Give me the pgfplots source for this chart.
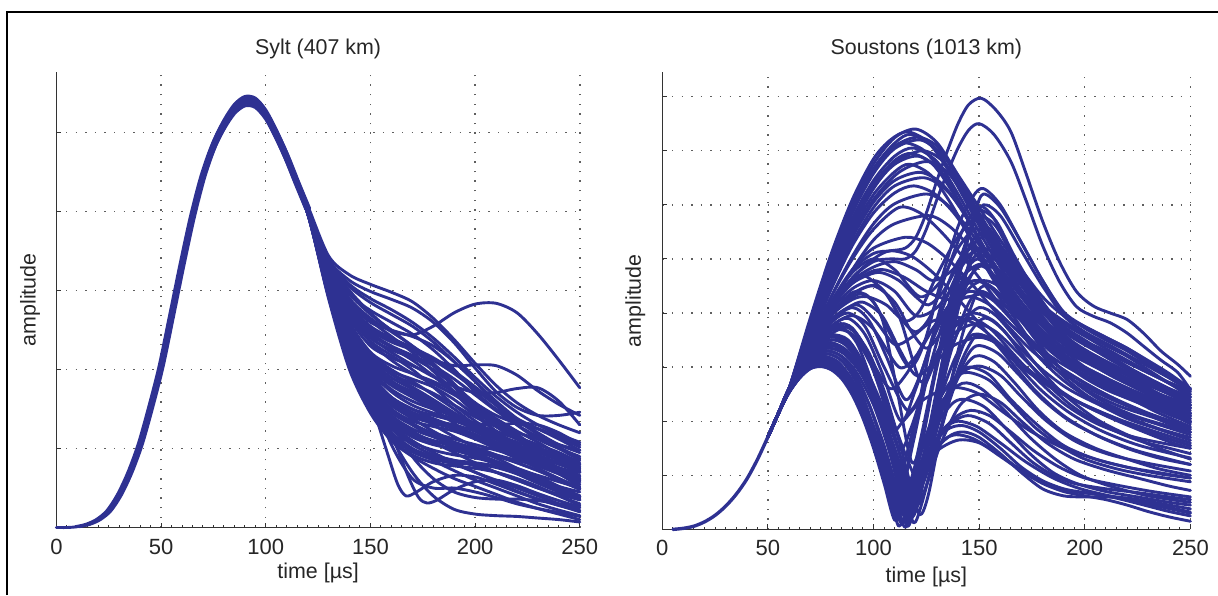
\documentclass[border=0pt]{standalone}
\usepackage{fontspec}
\setmainfont{Liberation Sans}
\usepackage{pgfplots}
\pgfplotsset{compat=1.18}
\definecolor{cblue}{RGB}{46,49,146}
\definecolor{gridc}{RGB}{95,95,95}
\newcommand{\cv}[1]{\addplot[cv] coordinates {#1};}
\pgfplotsset{
  cv/.style={color=cblue, line width=1.45pt, smooth, mark=none, line join=round, line cap=round},
  panel/.style={
    scale only axis,
    anchor=south west,
    xmin=0, xmax=250, ymin=0,
    xtick={0,50,100,150,200,250},
    minor x tick num=9,
    yticklabels={},
    tick pos=left,
    axis x line*=bottom, axis y line*=left,
    axis line style={-, black!80, line width=0.6pt},
    major tick length=2.5pt, minor tick length=1.3pt,
    tick style={black!80, line width=0.5pt},
    grid=major,
    major grid style={gridc, line width=0.7pt, dash pattern=on 0.7pt off 4.1pt},
    clip=false,
    /pgf/number format/assume math mode=true,
    ticklabel style={font=\fontsize{11}{12}\selectfont, text=black!85},
    xticklabel style={anchor=center, inner sep=0pt, yshift=-9.5pt},
    label style={font=\fontsize{10.7}{12}\selectfont, text=black!85},
    xlabel={time [µs]},
    ylabel={amplitude},
    ylabel style={anchor=center, inner sep=0pt},
    title style={font=\fontsize{10.7}{12}\selectfont, text=black!85, at={(axis description cs:0.5,1)}, anchor=center, inner sep=0pt, yshift=5.3pt},
  }
}
\begin{document}
\begin{tikzpicture}
\useasboundingbox (0,0) rectangle (609pt,297.5pt);
\draw[black, line width=1pt] (3.4pt,0) -- (3.4pt,291.6pt) -- (609pt,291.6pt);
% ---------------- Left panel: Sylt ----------------
\begin{axis}[panel, at={(28.2pt,33.75pt)}, width=261.7pt, height=227.75pt,
  ymax=5.77, ytick={1,2,3,4,5}, title={Sylt (407 km)},
  xlabel style={at={(axis description cs:0.5,0)}, anchor=center, inner sep=0pt, yshift=-22.75pt},
  ylabel style={at={(axis description cs:-0.0501,0.5)}}]
% common rise
\cv{(0,0)(5,0)(10,0.01)(15,0.04)(20,0.1)(25,0.21)(30,0.41)(35,0.69)(40,1.05)(45,1.52)(50,2.04)(55,2.68)(60,3.33)(65,3.94)(70,4.45)(75,4.83)(80,5.1)(85,5.3)(90,5.4)(95,5.38)(100,5.23)(105,4.98)(110,4.69)(115,4.36)(120,4.04)}
\cv{(11,0.01)(16,0.04)(21,0.1)(26,0.21)(31,0.41)(36,0.69)(41,1.05)(46,1.52)(51,2.04)(56,2.68)(61,3.33)(66,3.94)(71,4.45)(76,4.83)(81,5.1)(86,5.3)(91,5.4)(96,5.38)(101,5.23)(106,4.98)(111,4.69)(116,4.36)(121,4.04)}
\cv{(9,0.01)(14,0.04)(19,0.1)(24,0.21)(29,0.41)(34,0.69)(39,1.05)(44,1.52)(49,2.04)(54,2.68)(59,3.33)(64,3.94)(69,4.45)(74,4.83)(79,5.1)(84,5.3)(89,5.4)(94,5.38)(99,5.23)(104,4.98)(109,4.69)(114,4.36)(119,4.04)}
\cv{(40,1.05)(45,1.52)(50,2.02)(55,2.65)(60,3.29)(65,3.89)(70,4.4)(75,4.77)(80,5.04)(85,5.24)(90,5.34)(95,5.32)(100,5.17)(105,4.92)(110,4.63)(115,4.31)(120,3.99)}
\cv{(40,1.05)(45,1.52)(50,2.06)(55,2.71)(60,3.37)(65,3.99)(70,4.5)(75,4.89)(80,5.16)(85,5.36)(90,5.46)(95,5.44)(100,5.29)(105,5.04)(110,4.75)(115,4.41)(120,4.09)}
\cv{(40,1.05)(45,1.52)(50,2.03)(55,2.66)(60,3.31)(65,3.92)(70,4.42)(75,4.8)(80,5.07)(85,5.27)(90,5.37)(95,5.35)(100,5.2)(105,4.95)(110,4.66)(115,4.33)(120,4.02)}
\cv{(40,1.05)(45,1.52)(50,2.05)(55,2.7)(60,3.35)(65,3.96)(70,4.48)(75,4.86)(80,5.13)(85,5.33)(90,5.43)(95,5.41)(100,5.26)(105,5.01)(110,4.72)(115,4.39)(120,4.06)}
% upper tails
\cv{(110,4.72)(120,4.08)(130,3.44)(140,3.2)(150,3.08)(160,2.98)(170,2.86)(180,2.65)(190,2.38)(200,2.08)(210,1.8)(220,1.58)(230,1.42)(240,1.3)(250,1.2)}
\cv{(110,4.71)(120,4.06)(130,3.4)(140,3.13)(150,2.99)(160,2.89)(170,2.78)(180,2.6)(190,2.34)(200,2.02)(210,1.72)(220,1.52)(230,1.42)(240,1.42)(250,1.46)}
\cv{(110,4.7)(120,4.05)(130,3.36)(140,3.0)(150,2.72)(160,2.5)(170,2.44)(180,2.55)(190,2.72)(200,2.83)(210,2.84)(220,2.72)(230,2.45)(240,2.12)(250,1.77)}
\cv{(110,4.7)(120,4.05)(130,3.35)(140,2.96)(150,2.7)(160,2.5)(170,2.3)(180,2.13)(190,2.05)(200,2.06)(210,2.05)(220,1.93)(230,1.73)(240,1.56)(250,1.42)}
\cv{(110,4.69)(120,4.03)(130,3.26)(140,2.74)(150,2.42)(160,2.22)(170,2.06)(180,1.91)(190,1.79)(200,1.71)(210,1.71)(220,1.76)(230,1.77)(240,1.6)(250,1.3)}
% steep low tails
\cv{(110,4.67)(120,3.98)(130,3.22)(140,2.42)(150,1.62)(158,0.95)(163,0.55)(167,0.4)(172,0.45)(180,0.58)(190,0.66)(200,0.64)(210,0.55)(220,0.45)(230,0.36)(240,0.28)(250,0.2)}
\cv{(110,4.68)(120,4.0)(130,3.3)(140,2.6)(150,1.88)(160,1.2)(168,0.65)(173,0.38)(177,0.31)(182,0.35)(190,0.48)(200,0.58)(210,0.6)(220,0.53)(230,0.43)(240,0.34)(250,0.26)}
\cv{(110,4.68)(120,4.0)(130,3.3)(140,2.56)(150,1.82)(160,1.15)(170,0.7)(180,0.4)(190,0.23)(200,0.17)(210,0.15)(220,0.14)(230,0.12)(240,0.1)(250,0.07)}
\cv{(110,4.67)(120,3.98)(130,3.24)(140,2.5)(150,1.72)(160,1.05)(170,0.62)(180,0.5)(190,0.5)(200,0.45)(210,0.38)(220,0.3)(230,0.24)(240,0.19)(250,0.14)}
\cv{(110,4.68)(120,3.99)(130,3.28)(140,2.58)(150,1.92)(160,1.35)(170,0.9)(180,0.62)(190,0.45)(200,0.38)(210,0.36)(220,0.36)(230,0.34)(240,0.3)(250,0.25)}
% bulk tails
\cv{(110,4.7)(120,4.04)(130,3.36)(140,3.05)(150,2.85)(160,2.7)(170,2.55)(180,2.35)(190,2.1)(200,1.85)(210,1.6)(220,1.38)(230,1.2)(240,1.05)(250,0.95)}
\cv{(110,4.7)(120,4.03)(130,3.33)(140,2.95)(150,2.75)(160,2.6)(170,2.45)(180,2.25)(190,2.0)(200,1.72)(210,1.5)(220,1.35)(230,1.25)(240,1.15)(250,1.05)}
\cv{(110,4.7)(120,4.03)(130,3.3)(140,2.85)(150,2.6)(160,2.5)(170,2.42)(180,2.3)(190,2.1)(200,1.85)(210,1.55)(220,1.3)(230,1.12)(240,1.0)(250,0.9)}
\cv{(110,4.7)(120,4.02)(130,3.28)(140,2.8)(150,2.5)(160,2.35)(170,2.25)(180,2.12)(190,1.95)(200,1.75)(210,1.55)(220,1.38)(230,1.25)(240,1.12)(250,0.98)}
\cv{(110,4.7)(120,4.02)(130,3.25)(140,2.72)(150,2.4)(160,2.25)(170,2.15)(180,2.0)(190,1.8)(200,1.58)(210,1.42)(220,1.32)(230,1.25)(240,1.15)(250,1.02)}
\cv{(110,4.7)(120,4.02)(130,3.22)(140,2.65)(150,2.3)(160,2.15)(170,2.05)(180,1.92)(190,1.72)(200,1.5)(210,1.3)(220,1.15)(230,1.05)(240,0.95)(250,0.82)}
\cv{(110,4.68)(120,4.01)(130,3.2)(140,2.6)(150,2.22)(160,2.05)(170,1.95)(180,1.85)(190,1.72)(200,1.55)(210,1.38)(220,1.22)(230,1.08)(240,0.92)(250,0.75)}
\cv{(110,4.68)(120,4.01)(130,3.18)(140,2.55)(150,2.15)(160,1.95)(170,1.82)(180,1.7)(190,1.55)(200,1.4)(210,1.28)(220,1.2)(230,1.12)(240,1.0)(250,0.85)}
\cv{(110,4.68)(120,4.01)(130,3.15)(140,2.5)(150,2.08)(160,1.85)(170,1.72)(180,1.6)(190,1.45)(200,1.3)(210,1.18)(220,1.08)(230,0.98)(240,0.85)(250,0.7)}
\cv{(110,4.68)(120,4.0)(130,3.13)(140,2.45)(150,2.0)(160,1.75)(170,1.6)(180,1.5)(190,1.42)(200,1.32)(210,1.2)(220,1.05)(230,0.9)(240,0.75)(250,0.62)}
\cv{(110,4.68)(120,4.0)(130,3.1)(140,2.4)(150,1.95)(160,1.65)(170,1.5)(180,1.42)(190,1.35)(200,1.25)(210,1.12)(220,0.98)(230,0.85)(240,0.72)(250,0.6)}
\cv{(110,4.68)(120,4.0)(130,3.08)(140,2.35)(150,1.88)(160,1.58)(170,1.42)(180,1.35)(190,1.3)(200,1.22)(210,1.12)(220,1.0)(230,0.88)(240,0.75)(250,0.62)}
\cv{(110,4.68)(120,4.0)(130,3.05)(140,2.3)(150,1.8)(160,1.5)(170,1.35)(180,1.28)(190,1.22)(200,1.12)(210,1.0)(220,0.88)(230,0.78)(240,0.68)(250,0.58)}
\cv{(110,4.66)(120,3.99)(130,3.03)(140,2.25)(150,1.75)(160,1.42)(170,1.25)(180,1.15)(190,1.08)(200,1.0)(210,0.92)(220,0.85)(230,0.78)(240,0.68)(250,0.55)}
\cv{(110,4.66)(120,3.99)(130,3.0)(140,2.2)(150,1.7)(160,1.35)(170,1.15)(180,1.05)(190,1.0)(200,0.95)(210,0.9)(220,0.82)(230,0.72)(240,0.6)(250,0.48)}
\cv{(110,4.66)(120,3.99)(130,2.98)(140,2.15)(150,1.62)(160,1.28)(170,1.08)(180,0.98)(190,0.92)(200,0.88)(210,0.82)(220,0.75)(230,0.65)(240,0.52)(250,0.4)}
\cv{(110,4.66)(120,3.99)(130,2.96)(140,2.1)(150,1.55)(160,1.2)(170,1.0)(180,0.9)(190,0.85)(200,0.82)(210,0.78)(220,0.7)(230,0.6)(240,0.48)(250,0.35)}
\cv{(110,4.66)(120,3.98)(130,2.94)(140,2.05)(150,1.5)(160,1.12)(170,0.92)(180,0.82)(190,0.78)(200,0.75)(210,0.7)(220,0.62)(230,0.52)(240,0.4)(250,0.28)}
\cv{(110,4.7)(120,4.03)(130,3.32)(140,2.9)(150,2.65)(160,2.48)(170,2.3)(180,2.08)(190,1.82)(200,1.55)(210,1.32)(220,1.15)(230,1.02)(240,0.9)(250,0.78)}
\cv{(110,4.7)(120,4.02)(130,3.26)(140,2.75)(150,2.45)(160,2.28)(170,2.12)(180,1.92)(190,1.7)(200,1.45)(210,1.22)(220,1.05)(230,0.95)(240,0.85)(250,0.72)}
\cv{(110,4.68)(120,4.01)(130,3.2)(140,2.58)(150,2.2)(160,2.0)(170,1.85)(180,1.68)(190,1.5)(200,1.3)(210,1.12)(220,0.98)(230,0.88)(240,0.8)(250,0.7)}
\cv{(110,4.68)(120,4.0)(130,3.12)(140,2.45)(150,2.02)(160,1.8)(170,1.65)(180,1.5)(190,1.32)(200,1.15)(210,1.0)(220,0.88)(230,0.8)(240,0.72)(250,0.62)}
\cv{(110,4.68)(120,4.0)(130,3.06)(140,2.32)(150,1.85)(160,1.6)(170,1.45)(180,1.3)(190,1.15)(200,1.02)(210,0.92)(220,0.82)(230,0.72)(240,0.62)(250,0.5)}
\cv{(110,4.66)(120,3.99)(130,3.02)(140,2.25)(150,1.78)(160,1.5)(170,1.32)(180,1.18)(190,1.05)(200,0.92)(210,0.8)(220,0.7)(230,0.6)(240,0.5)(250,0.4)}
\cv{(110,4.66)(120,3.99)(130,3.0)(140,2.2)(150,1.72)(160,1.42)(170,1.22)(180,1.08)(190,0.95)(200,0.82)(210,0.7)(220,0.6)(230,0.5)(240,0.4)(250,0.3)}
\cv{(110,4.66)(120,3.98)(130,2.95)(140,2.1)(150,1.6)(160,1.3)(170,1.1)(180,0.95)(190,0.82)(200,0.7)(210,0.6)(220,0.5)(230,0.4)(240,0.3)(250,0.2)}
\cv{(110,4.66)(120,3.98)(130,2.92)(140,2.05)(150,1.52)(160,1.2)(170,1.0)(180,0.85)(190,0.72)(200,0.6)(210,0.5)(220,0.4)(230,0.3)(240,0.22)(250,0.15)}
\cv{(110,4.66)(120,3.98)(130,2.9)(140,2.0)(150,1.45)(160,1.1)(170,0.9)(180,0.75)(190,0.62)(200,0.52)(210,0.42)(220,0.32)(230,0.24)(240,0.17)(250,0.1)}
\cv{(110,4.7)(120,4.02)(130,3.28)(140,2.8)(150,2.52)(160,2.38)(170,2.25)(180,2.05)(190,1.78)(200,1.5)(210,1.28)(220,1.12)(230,1.0)(240,0.88)(250,0.76)}
\cv{(110,4.68)(120,4.01)(130,3.16)(140,2.52)(150,2.12)(160,1.9)(170,1.75)(180,1.58)(190,1.4)(200,1.22)(210,1.08)(220,0.95)(230,0.82)(240,0.7)(250,0.58)}
\cv{(110,4.68)(120,4.0)(130,3.1)(140,2.4)(150,1.92)(160,1.65)(170,1.5)(180,1.38)(190,1.28)(200,1.18)(210,1.05)(220,0.92)(230,0.8)(240,0.7)(250,0.6)}
\cv{(110,4.66)(120,3.99)(130,3.0)(140,2.2)(150,1.68)(160,1.35)(170,1.18)(180,1.1)(190,1.05)(200,0.98)(210,0.88)(220,0.75)(230,0.62)(240,0.5)(250,0.4)}
% extra bulk tails
\cv{(110,4.69)(120,4.02)(130,3.23)(140,2.68)(150,2.36)(160,2.18)(170,2.0)(180,1.78)(190,1.55)(200,1.35)(210,1.18)(220,1.02)(230,0.88)(240,0.75)(250,0.65)}
\cv{(110,4.69)(120,4.01)(130,3.19)(140,2.57)(150,2.18)(160,1.98)(170,1.88)(180,1.78)(190,1.62)(200,1.42)(210,1.22)(220,1.05)(230,0.92)(240,0.82)(250,0.72)}
\cv{(110,4.68)(120,4.0)(130,3.14)(140,2.47)(150,2.05)(160,1.82)(170,1.68)(180,1.55)(190,1.4)(200,1.25)(210,1.12)(220,1.02)(230,0.95)(240,0.88)(250,0.8)}
\cv{(110,4.68)(120,4.0)(130,3.11)(140,2.42)(150,1.98)(160,1.72)(170,1.55)(180,1.45)(190,1.38)(200,1.3)(210,1.22)(220,1.12)(230,1.0)(240,0.88)(250,0.75)}
\cv{(110,4.67)(120,3.99)(130,3.07)(140,2.33)(150,1.84)(160,1.55)(170,1.4)(180,1.32)(190,1.25)(200,1.15)(210,1.02)(220,0.9)(230,0.82)(240,0.75)(250,0.7)}
\cv{(110,4.67)(120,3.99)(130,3.04)(140,2.27)(150,1.77)(160,1.46)(170,1.3)(180,1.2)(190,1.12)(200,1.05)(210,0.98)(220,0.9)(230,0.8)(240,0.68)(250,0.52)}
\cv{(110,4.66)(120,3.99)(130,3.01)(140,2.22)(150,1.71)(160,1.38)(170,1.2)(180,1.1)(190,1.02)(200,0.92)(210,0.82)(220,0.72)(230,0.62)(240,0.52)(250,0.45)}
\cv{(110,4.66)(120,3.98)(130,2.97)(140,2.13)(150,1.58)(160,1.25)(170,1.05)(180,0.92)(190,0.85)(200,0.78)(210,0.7)(220,0.6)(230,0.5)(240,0.42)(250,0.35)}
\cv{(110,4.66)(120,3.98)(130,2.93)(140,2.07)(150,1.53)(160,1.18)(170,0.98)(180,0.88)(190,0.8)(200,0.7)(210,0.58)(220,0.46)(230,0.36)(240,0.28)(250,0.22)}
\cv{(110,4.7)(120,4.03)(130,3.31)(140,2.88)(150,2.62)(160,2.42)(170,2.22)(180,1.98)(190,1.72)(200,1.48)(210,1.28)(220,1.12)(230,0.98)(240,0.85)(250,0.7)}
\cv{(110,4.7)(120,4.03)(130,3.3)(140,2.82)(150,2.55)(160,2.4)(170,2.28)(180,2.15)(190,1.98)(200,1.78)(210,1.56)(220,1.36)(230,1.18)(240,1.02)(250,0.88)}
\cv{(110,4.7)(120,4.02)(130,3.27)(140,2.77)(150,2.47)(160,2.3)(170,2.18)(180,2.05)(190,1.88)(200,1.68)(210,1.48)(220,1.3)(230,1.15)(240,1.05)(250,0.98)}
\cv{(110,4.69)(120,4.02)(130,3.24)(140,2.7)(150,2.35)(160,2.12)(170,1.95)(180,1.82)(190,1.68)(200,1.52)(210,1.35)(220,1.18)(230,1.0)(240,0.85)(250,0.72)}
\cv{(110,4.68)(120,4.01)(130,3.17)(140,2.54)(150,2.1)(160,1.86)(170,1.7)(180,1.56)(190,1.42)(200,1.28)(210,1.15)(220,1.02)(230,0.88)(240,0.75)(250,0.62)}
\cv{(110,4.67)(120,4.0)(130,3.09)(140,2.38)(150,1.9)(160,1.62)(170,1.46)(180,1.36)(190,1.26)(200,1.15)(210,1.02)(220,0.88)(230,0.75)(240,0.62)(250,0.5)}
\cv{(110,4.66)(120,3.99)(130,3.0)(140,2.18)(150,1.65)(160,1.32)(170,1.15)(180,1.06)(190,0.98)(200,0.9)(210,0.8)(220,0.68)(230,0.56)(240,0.45)(250,0.36)}
\cv{(110,4.66)(120,3.98)(130,2.94)(140,2.06)(150,1.5)(160,1.15)(170,0.96)(180,0.86)(190,0.82)(200,0.8)(210,0.76)(220,0.68)(230,0.58)(240,0.48)(250,0.38)}
\cv{(110,4.67)(120,3.99)(130,3.06)(140,2.3)(150,1.82)(160,1.55)(170,1.38)(180,1.22)(190,1.08)(200,0.95)(210,0.84)(220,0.74)(230,0.66)(240,0.58)(250,0.5)}
\cv{(110,4.68)(120,4.01)(130,3.18)(140,2.56)(150,2.16)(160,1.94)(170,1.78)(180,1.62)(190,1.45)(200,1.28)(210,1.12)(220,0.98)(230,0.86)(240,0.76)(250,0.66)}
\cv{(110,4.71)(120,4.05)(130,3.38)(140,3.08)(150,2.9)(160,2.76)(170,2.6)(180,2.4)(190,2.16)(200,1.9)(210,1.66)(220,1.46)(230,1.3)(240,1.18)(250,1.08)}
\cv{(110,4.68)(120,4.0)(130,3.15)(140,2.5)(150,2.1)(160,1.85)(170,1.68)(180,1.52)(190,1.4)(200,1.32)(210,1.3)(220,1.32)(230,1.3)(240,1.2)(250,1.05)}
\cv{(110,4.67)(120,3.99)(130,3.05)(140,2.3)(150,1.8)(160,1.5)(170,1.3)(180,1.15)(190,1.05)(200,1.0)(210,1.0)(220,1.02)(230,1.0)(240,0.92)(250,0.8)}
\end{axis}
% ---------------- Right panel: Soustons ----------------
\begin{axis}[panel, at={(331.15pt,32.8pt)}, width=264.05pt, height=228.7pt,
  ymax=8.455, ytick={1,2,3,4,5,6,7,8}, title={Soustons (1013 km)},
  xlabel style={at={(axis description cs:0.5,0)}, anchor=center, inner sep=0pt, yshift=-23.7pt},
  ylabel style={at={(axis description cs:-0.0513,0.5)}}]
\addplot[cv, line width=1.7pt] coordinates {(5,0)(10,0.02)(15,0.06)(20,0.14)(25,0.26)(30,0.43)(35,0.65)(40,0.93)(45,1.29)(50,1.71)(55,2.15)(60,2.6)(65,3.03)};
% top family
\cv{(50,1.71)(55,2.15)(60,2.6)(70,3.84)(80,5.0)(90,6.0)(100,6.76)(110,7.24)(120,7.4)(130,7.15)(140,6.55)(150,5.95)(160,5.35)(170,4.8)(180,4.3)(190,3.95)(200,3.75)(210,3.55)(220,3.35)(230,3.12)(240,2.88)(250,2.6)}
\cv{(50,1.71)(55,2.15)(60,2.6)(70,3.82)(80,4.95)(90,5.92)(100,6.67)(110,7.14)(118,7.3)(130,7.0)(140,6.35)(150,5.7)(160,5.1)(170,4.6)(180,4.15)(190,3.85)(200,3.62)(210,3.4)(220,3.2)(230,2.95)(240,2.7)(250,2.45)}
\cv{(50,1.71)(55,2.15)(60,2.6)(70,3.79)(80,4.9)(90,5.85)(100,6.58)(110,7.04)(122,7.2)(132,6.95)(140,6.5)(150,5.85)(160,5.2)(170,4.6)(180,4.1)(190,3.75)(200,3.5)(210,3.25)(220,3.0)(230,2.78)(240,2.55)(250,2.3)}
\cv{(50,1.71)(55,2.15)(60,2.6)(70,3.75)(80,4.83)(90,5.75)(100,6.45)(110,6.9)(119,7.05)(130,6.8)(140,6.2)(150,5.5)(160,4.85)(170,4.3)(180,3.85)(190,3.5)(200,3.28)(210,3.05)(220,2.85)(230,2.62)(240,2.38)(250,2.15)}
\cv{(50,1.71)(55,2.15)(60,2.6)(70,3.71)(80,4.75)(90,5.64)(100,6.32)(110,6.75)(121,6.9)(131,6.65)(140,6.1)(150,5.35)(160,4.6)(170,4.0)(180,3.6)(190,3.3)(200,3.1)(210,2.9)(220,2.7)(230,2.5)(240,2.3)(250,2.1)}
\cv{(50,1.71)(55,2.15)(60,2.6)(70,3.67)(80,4.68)(90,5.53)(100,6.19)(110,6.61)(117,6.75)(127,6.55)(137,6.0)(147,5.3)(157,4.6)(170,3.9)(180,3.5)(190,3.2)(200,3.0)(210,2.8)(220,2.62)(230,2.45)(240,2.28)(250,2.1)}
\cv{(50,1.71)(55,2.15)(60,2.6)(70,3.5)(80,4.45)(90,5.3)(100,5.95)(110,6.35)(124,6.5)(135,6.25)(145,5.7)(155,5.0)(165,4.35)(175,3.85)(185,3.5)(195,3.25)(210,2.95)(225,2.65)(240,2.35)(250,2.15)}
\cv{(50,1.71)(55,2.15)(60,2.6)(70,3.4)(80,4.3)(90,5.05)(100,5.65)(110,6.02)(125,6.2)(135,6.0)(145,5.55)(155,4.95)(165,4.35)(175,3.8)(185,3.4)(195,3.1)(210,2.8)(225,2.5)(240,2.2)(250,2.0)}
\cv{(50,1.71)(55,2.15)(60,2.6)(70,3.3)(80,4.1)(90,4.8)(100,5.35)(110,5.65)(126,5.8)(136,5.6)(146,5.2)(156,4.7)(166,4.15)(176,3.7)(186,3.35)(196,3.05)(210,2.75)(225,2.45)(240,2.15)(250,1.95)}
\cv{(50,1.71)(55,2.15)(60,2.6)(70,3.3)(80,4.15)(90,4.8)(100,5.2)(115,5.4)(125,5.3)(135,5.0)(145,4.6)(155,4.15)(165,3.7)(175,3.3)(185,3.0)(195,2.75)(210,2.45)(225,2.2)(240,1.95)(250,1.8)}
\cv{(50,1.71)(55,2.15)(60,2.6)(70,3.3)(80,4.1)(90,4.65)(100,5.0)(108,5.15)(118,5.05)(128,4.75)(138,4.35)(148,3.9)(158,3.45)(170,3.0)(185,2.6)(200,2.3)(215,2.05)(230,1.8)(250,1.55)}
\cv{(50,1.71)(55,2.15)(60,2.6)(70,3.9)(80,5.1)(90,6.1)(100,6.85)(108,7.2)(116,7.35)(126,7.15)(136,6.6)(146,5.9)(156,5.2)(166,4.6)(176,4.15)(186,3.8)(196,3.55)(210,3.3)(225,3.0)(240,2.7)(250,2.5)}
\cv{(50,1.71)(55,2.15)(60,2.6)(70,3.85)(80,5.0)(90,5.95)(100,6.65)(107,6.98)(114,7.15)(124,7.0)(134,6.5)(144,5.8)(154,5.1)(164,4.5)(174,4.0)(184,3.6)(194,3.35)(210,3.05)(225,2.78)(240,2.5)(250,2.3)}
\cv{(50,1.71)(55,2.15)(60,2.6)(70,3.8)(80,4.92)(90,5.88)(100,6.62)(110,7.08)(121,7.25)(131,7.05)(141,6.45)(151,5.75)(161,5.1)(171,4.55)(181,4.1)(191,3.78)(201,3.55)(212,3.3)(225,3.02)(240,2.7)(250,2.5)}
\cv{(50,1.71)(55,2.15)(60,2.6)(70,3.73)(80,4.8)(90,5.7)(100,6.38)(110,6.82)(118,6.95)(128,6.75)(138,6.2)(148,5.5)(158,4.85)(168,4.3)(178,3.85)(188,3.5)(198,3.25)(212,2.95)(226,2.68)(240,2.42)(250,2.25)}
\cv{(50,1.71)(55,2.15)(60,2.6)(70,3.6)(80,4.55)(90,5.4)(100,6.05)(110,6.45)(122,6.6)(132,6.4)(142,5.9)(152,5.2)(162,4.55)(172,4.0)(182,3.6)(192,3.3)(204,3.05)(218,2.78)(234,2.5)(250,2.25)}
\cv{(50,1.71)(55,2.15)(60,2.6)(70,3.55)(80,4.45)(90,5.25)(100,5.85)(110,6.22)(119,6.35)(129,6.2)(139,5.8)(149,5.2)(159,4.55)(169,4.0)(179,3.55)(189,3.2)(200,2.95)(215,2.65)(232,2.38)(250,2.12)}
\cv{(50,1.71)(55,2.15)(60,2.6)(70,3.68)(80,4.7)(90,5.6)(100,6.3)(110,6.78)(123,7.0)(133,6.8)(142,6.3)(152,5.6)(162,4.95)(172,4.4)(182,3.95)(192,3.62)(204,3.38)(218,3.12)(234,2.82)(250,2.55)}
\cv{(50,1.71)(55,2.15)(60,2.6)(70,3.45)(80,4.3)(90,5.0)(100,5.55)(112,5.95)(122,5.85)(132,5.5)(142,5.05)(152,4.55)(162,4.05)(172,3.6)(182,3.25)(194,2.95)(208,2.68)(224,2.4)(240,2.12)(250,1.98)}
\cv{(50,1.71)(55,2.15)(60,2.6)(70,3.62)(80,4.6)(90,5.45)(100,6.1)(112,6.6)(125,6.8)(135,6.6)(145,6.05)(155,5.35)(165,4.7)(175,4.15)(185,3.72)(195,3.42)(208,3.15)(222,2.88)(236,2.6)(250,2.38)}
% two highest
\cv{(50,1.71)(55,2.15)(60,2.6)(70,3.4)(80,4.2)(90,4.8)(100,5.1)(108,5.15)(115,5.2)(120,5.4)(125,5.85)(130,6.45)(135,7.0)(140,7.5)(145,7.85)(151,7.97)(158,7.75)(165,7.35)(172,6.6)(180,5.7)(188,4.95)(196,4.4)(204,4.13)(212,4.0)(220,3.88)(228,3.62)(236,3.3)(244,3.05)(250,2.83)}
\cv{(50,1.71)(55,2.15)(60,2.6)(70,3.35)(80,4.1)(90,4.65)(100,4.95)(108,5.0)(115,5.0)(120,5.15)(125,5.55)(130,6.1)(135,6.6)(140,7.05)(145,7.38)(150,7.5)(157,7.3)(165,6.8)(172,6.1)(180,5.25)(188,4.58)(196,4.12)(204,3.94)(212,3.82)(220,3.63)(228,3.38)(236,3.13)(244,2.9)(250,2.58)}
% middle family
\cv{(50,1.71)(55,2.15)(60,2.6)(70,3.45)(80,4.2)(90,4.75)(100,5.0)(110,4.8)(122,4.3)(132,4.6)(140,5.2)(148,5.55)(156,5.4)(165,4.9)(175,4.3)(185,3.8)(195,3.45)(210,3.1)(225,2.8)(240,2.5)(250,2.3)}
\cv{(50,1.71)(55,2.15)(60,2.6)(70,3.4)(80,4.1)(88,4.55)(95,4.7)(105,4.4)(113,3.9)(120,3.65)(127,3.95)(135,4.8)(143,5.6)(150,5.9)(158,5.7)(166,5.1)(175,4.5)(185,3.95)(195,3.6)(210,3.25)(225,2.9)(240,2.6)(250,2.45)}
\cv{(50,1.71)(55,2.15)(60,2.6)(70,3.35)(80,3.95)(86,4.25)(92,4.4)(100,4.2)(108,3.6)(117,3.0)(124,3.45)(132,4.6)(140,5.6)(147,6.15)(152,6.3)(160,6.0)(170,5.3)(180,4.6)(190,4.02)(200,3.75)(210,3.55)(220,3.35)(230,3.1)(240,2.85)(250,2.6)}
\cv{(50,1.71)(55,2.15)(60,2.6)(70,3.3)(80,3.85)(90,4.1)(98,3.85)(106,3.2)(115,2.4)(122,2.85)(130,3.8)(140,4.75)(150,5.2)(158,5.05)(168,4.5)(178,3.95)(190,3.5)(200,3.25)(215,2.9)(230,2.55)(250,2.15)}
\cv{(50,1.71)(55,2.15)(60,2.6)(70,3.25)(80,3.75)(88,3.9)(96,3.6)(104,2.9)(113,2.0)(120,2.6)(128,3.5)(138,4.3)(148,4.6)(157,4.45)(167,4.0)(178,3.5)(190,3.1)(205,2.75)(220,2.45)(235,2.15)(250,1.9)}
\cv{(50,1.71)(55,2.15)(60,2.6)(70,3.4)(80,4.1)(90,4.55)(98,4.75)(105,4.8)(115,4.65)(125,4.4)(135,4.25)(145,4.3)(152,4.35)(160,4.2)(170,3.85)(180,3.45)(190,3.15)(205,2.8)(220,2.5)(235,2.25)(250,2.0)}
\cv{(50,1.71)(55,2.15)(60,2.6)(70,3.35)(80,3.95)(90,4.35)(100,4.5)(110,4.2)(118,3.65)(125,3.35)(132,3.65)(140,4.3)(147,4.75)(153,4.9)(161,4.75)(170,4.35)(180,3.85)(190,3.45)(205,3.05)(220,2.7)(235,2.4)(250,2.15)}
\cv{(50,1.71)(55,2.15)(60,2.6)(70,3.2)(78,3.6)(86,3.8)(94,3.5)(102,2.7)(112,1.5)(118,1.9)(126,2.85)(136,3.55)(148,3.8)(158,3.65)(170,3.2)(182,2.75)(195,2.4)(210,2.1)(225,1.85)(240,1.62)(250,1.5)}
\cv{(50,1.71)(55,2.15)(60,2.6)(70,3.3)(80,3.85)(88,4.1)(95,4.2)(104,3.95)(112,3.35)(120,2.85)(128,3.05)(138,3.4)(150,3.55)(160,3.4)(172,3.0)(185,2.6)(200,2.3)(215,2.05)(230,1.85)(250,1.6)}
\cv{(50,1.71)(55,2.15)(60,2.6)(70,3.45)(80,4.15)(90,4.6)(100,4.85)(110,4.95)(120,4.8)(128,4.6)(136,4.75)(144,5.05)(151,5.15)(160,4.9)(170,4.4)(180,3.9)(190,3.5)(205,3.1)(220,2.75)(235,2.45)(250,2.25)}
\cv{(50,1.71)(55,2.15)(60,2.6)(70,3.2)(78,3.55)(85,3.7)(93,3.5)(100,3.05)(108,2.6)(116,2.9)(126,3.6)(136,4.1)(145,4.3)(155,4.15)(166,3.75)(178,3.3)(190,2.95)(205,2.6)(220,2.3)(235,2.05)(250,1.8)}
\cv{(50,1.71)(55,2.15)(60,2.6)(70,3.35)(80,3.95)(90,4.25)(97,4.3)(106,4.15)(115,3.85)(122,4.05)(130,4.7)(139,5.35)(147,5.7)(155,5.55)(164,5.0)(174,4.4)(184,3.9)(194,3.55)(210,3.2)(225,2.9)(240,2.6)(250,2.45)}
\cv{(50,1.71)(55,2.15)(60,2.6)(70,3.4)(80,4.05)(90,4.45)(100,4.6)(110,4.4)(120,3.95)(130,4.1)(140,4.6)(150,4.9)(160,4.75)(170,4.3)(180,3.8)(190,3.42)(205,3.05)(220,2.72)(235,2.45)(250,2.25)}
\cv{(50,1.71)(55,2.15)(60,2.6)(70,3.3)(80,3.82)(88,4.0)(96,3.75)(105,3.0)(116,2.2)(123,2.55)(132,3.35)(140,3.85)(147,4.0)(157,3.85)(168,3.4)(180,2.95)(192,2.6)(206,2.32)(222,2.05)(236,1.85)(250,1.7)}
\cv{(50,1.71)(55,2.15)(60,2.6)(70,3.42)(80,4.12)(90,4.55)(102,4.75)(112,4.6)(120,4.3)(126,4.15)(133,4.4)(141,4.95)(148,5.3)(153,5.4)(161,5.2)(170,4.7)(180,4.15)(190,3.72)(202,3.38)(216,3.05)(232,2.72)(250,2.4)}
\cv{(50,1.71)(55,2.15)(60,2.6)(70,3.25)(80,3.75)(90,3.95)(100,3.7)(112,3.0)(120,3.2)(128,3.7)(137,4.2)(146,4.4)(156,4.25)(166,3.85)(177,3.4)(188,3.0)(200,2.7)(214,2.42)(230,2.15)(250,1.88)}
\cv{(50,1.71)(55,2.15)(60,2.6)(70,3.35)(80,3.95)(88,4.25)(96,4.35)(104,3.9)(111,2.6)(118,1.25)(123,1.7)(130,3.0)(138,4.2)(145,4.85)(150,5.0)(158,4.85)(168,4.3)(178,3.75)(190,3.25)(204,2.85)(220,2.5)(235,2.25)(250,2.05)}
\cv{(50,1.71)(55,2.15)(60,2.6)(70,3.38)(80,4.0)(90,4.35)(102,4.5)(112,3.95)(122,2.75)(128,3.05)(136,3.8)(144,4.4)(152,4.6)(161,4.45)(171,4.0)(182,3.5)(194,3.1)(208,2.75)(224,2.45)(240,2.2)(250,2.05)}
\cv{(50,1.71)(55,2.15)(60,2.6)(70,3.3)(80,3.88)(92,4.15)(101,3.85)(110,3.42)(118,3.55)(128,3.85)(140,3.92)(150,3.75)(162,3.35)(175,2.9)(188,2.55)(202,2.25)(218,1.98)(234,1.75)(250,1.55)}
\cv{(50,1.71)(55,2.15)(60,2.6)(70,3.22)(77,3.6)(84,3.75)(92,3.45)(100,2.65)(108,1.82)(114,2.0)(122,2.35)(131,2.55)(140,2.62)(150,2.5)(162,2.15)(175,1.8)(190,1.5)(205,1.3)(220,1.15)(235,1.05)(250,0.95)}
% dip family
\cv{(50,1.71)(55,2.15)(60,2.54)(65,2.81)(70,2.99)(75,3.05)(80,3.0)(85,2.85)(90,2.59)(95,2.22)(100,1.74)(105,1.16)(110,0.5)(113,0.12)(117,0.35)(122,1.1)(128,2.1)(135,3.15)(142,3.8)(150,4.1)(158,3.95)(168,3.5)(178,3.0)(190,2.5)(205,2.05)(220,1.75)(235,1.5)(250,1.3)}
\cv{(50,1.71)(55,2.15)(60,2.55)(65,2.84)(70,3.02)(76,3.1)(82,3.03)(88,2.8)(94,2.4)(100,1.85)(106,1.15)(111,0.45)(115,0.04)(119,0.45)(124,1.4)(130,2.6)(137,3.95)(144,5.3)(150,5.95)(157,5.75)(166,5.05)(176,4.35)(186,3.8)(196,3.4)(210,3.05)(225,2.75)(240,2.5)(250,2.35)}
\cv{(50,1.71)(55,2.15)(60,2.54)(65,2.81)(70,2.99)(75,3.05)(80,3.0)(85,2.85)(90,2.58)(95,2.2)(100,1.7)(105,1.1)(109,0.5)(112,0.27)(116,0.45)(122,0.95)(130,1.5)(137,1.75)(143,1.8)(150,1.7)(160,1.4)(170,1.05)(180,0.75)(190,0.62)(200,0.6)(210,0.6)(220,0.58)(230,0.52)(240,0.45)(250,0.38)}
\cv{(50,1.71)(55,2.15)(60,2.53)(65,2.8)(70,2.97)(75,3.02)(80,2.96)(85,2.8)(90,2.52)(95,2.12)(100,1.62)(105,1.0)(108,0.55)(111,0.38)(115,0.55)(122,1.05)(130,1.45)(140,1.65)(150,1.6)(160,1.35)(170,1.08)(180,0.85)(190,0.7)(200,0.62)(210,0.55)(220,0.45)(230,0.33)(240,0.23)(250,0.15)}
\cv{(50,1.71)(55,2.15)(60,2.54)(65,2.82)(70,3.0)(75,3.06)(80,3.02)(85,2.87)(90,2.62)(95,2.26)(100,1.78)(105,1.2)(110,0.55)(114,0.17)(118,0.5)(125,1.3)(133,1.85)(140,2.05)(146,2.1)(155,1.95)(165,1.6)(175,1.25)(185,1.0)(195,0.85)(210,0.75)(225,0.68)(240,0.6)(250,0.55)}
\cv{(50,1.71)(55,2.15)(60,2.57)(65,2.9)(70,3.15)(77,3.3)(85,3.2)(92,2.9)(100,2.3)(107,1.5)(112,0.75)(116,0.06)(120,0.5)(126,1.6)(133,2.95)(141,4.2)(149,4.85)(157,4.7)(167,4.1)(177,3.5)(188,3.0)(200,2.6)(215,2.3)(230,2.1)(250,1.85)}
\cv{(50,1.71)(55,2.15)(60,2.57)(65,2.92)(70,3.18)(78,3.35)(86,3.25)(94,2.9)(102,2.3)(110,1.5)(115,0.9)(119,0.55)(124,0.9)(132,1.9)(140,2.8)(148,3.2)(157,3.1)(167,2.7)(178,2.2)(190,1.8)(205,1.5)(220,1.3)(235,1.12)(250,1.0)}
\cv{(50,1.71)(55,2.15)(60,2.58)(65,2.95)(70,3.25)(75,3.48)(80,3.6)(88,3.5)(96,3.0)(104,2.15)(110,1.3)(114,0.65)(118,0.22)(122,0.6)(128,1.7)(135,3.1)(143,4.6)(150,5.45)(158,5.35)(167,4.75)(177,4.1)(187,3.6)(198,3.2)(212,2.85)(228,2.55)(250,2.2)}
\cv{(50,1.71)(55,2.15)(60,2.6)(65,3.0)(70,3.35)(76,3.65)(83,3.8)(90,3.72)(98,3.2)(106,2.3)(113,1.3)(117,0.7)(120,0.42)(124,0.7)(132,1.6)(141,2.3)(150,2.5)(160,2.35)(170,2.0)(182,1.6)(195,1.3)(210,1.1)(225,0.95)(240,0.8)(250,0.72)}
\cv{(50,1.71)(55,2.15)(60,2.56)(65,2.88)(70,3.1)(76,3.2)(83,3.1)(90,2.75)(97,2.15)(104,1.4)(110,0.62)(114,0.12)(118,0.45)(124,1.3)(131,2.35)(139,3.2)(147,3.6)(156,3.5)(166,3.05)(177,2.55)(190,2.1)(205,1.75)(220,1.5)(235,1.32)(250,1.2)}
\cv{(50,1.71)(55,2.15)(60,2.58)(65,2.94)(70,3.22)(79,3.5)(87,3.4)(95,2.95)(103,2.15)(110,1.2)(114,0.62)(117,0.32)(121,0.75)(127,1.9)(134,3.4)(142,4.95)(148,5.85)(152,6.2)(160,5.95)(170,5.3)(180,4.6)(190,4.0)(200,3.72)(210,3.5)(220,3.3)(230,3.05)(240,2.8)(250,2.55)}
\cv{(50,1.71)(55,2.15)(60,2.55)(65,2.84)(70,3.02)(76,3.1)(82,3.03)(88,2.8)(94,2.42)(100,1.88)(106,1.1)(109,0.6)(112,0.27)(116,0.55)(122,1.35)(130,2.3)(138,2.8)(145,2.9)(155,2.75)(165,2.35)(176,1.9)(188,1.55)(200,1.3)(215,1.12)(230,1.0)(250,0.88)}
\cv{(50,1.71)(55,2.15)(60,2.57)(65,2.92)(70,3.18)(78,3.4)(86,3.3)(94,2.95)(102,2.35)(109,1.55)(114,0.95)(118,0.58)(122,0.9)(128,1.9)(136,3.2)(144,4.1)(150,4.4)(158,4.25)(168,3.75)(178,3.2)(190,2.75)(205,2.35)(220,2.05)(235,1.85)(250,1.65)}
\cv{(50,1.71)(55,2.15)(60,2.53)(65,2.8)(70,2.97)(75,3.01)(80,2.95)(85,2.78)(90,2.48)(95,2.05)(100,1.5)(105,0.85)(110,0.17)(114,0.4)(120,0.95)(128,1.55)(135,1.85)(142,1.92)(150,1.8)(160,1.5)(170,1.15)(180,0.9)(190,0.75)(200,0.68)(210,0.62)(220,0.53)(230,0.43)(240,0.33)(250,0.25)}
\cv{(50,1.71)(55,2.15)(60,2.56)(65,2.89)(70,3.12)(77,3.25)(84,3.15)(91,2.85)(98,2.3)(105,1.55)(111,0.75)(116,0.1)(120,0.55)(126,1.7)(133,3.1)(141,4.4)(148,5.05)(156,4.95)(165,4.4)(175,3.8)(186,3.25)(198,2.85)(212,2.55)(230,2.3)(250,2.05)}
\cv{(50,1.71)(55,2.15)(60,2.6)(65,2.98)(70,3.3)(76,3.58)(82,3.7)(90,3.6)(98,3.1)(106,2.35)(113,1.6)(118,1.1)(121,0.92)(126,1.3)(134,2.4)(143,3.45)(152,3.9)(161,3.7)(171,3.2)(182,2.7)(195,2.25)(210,1.9)(225,1.65)(240,1.5)(250,1.4)}
\cv{(50,1.71)(55,2.15)(60,2.54)(65,2.82)(70,2.99)(75,3.04)(80,2.99)(85,2.84)(90,2.57)(95,2.2)(100,1.72)(106,1.05)(110,0.6)(112,0.43)(116,0.62)(123,1.3)(131,2.0)(138,2.35)(144,2.4)(153,2.25)(163,1.85)(174,1.4)(185,1.05)(196,0.85)(210,0.7)(225,0.6)(240,0.5)(250,0.45)}
\cv{(50,1.71)(55,2.15)(60,2.58)(65,2.94)(70,3.23)(79,3.55)(87,3.45)(95,3.0)(103,2.2)(110,1.25)(114,0.6)(117,0.17)(121,0.55)(127,1.5)(135,2.5)(141,2.9)(146,3.0)(155,2.85)(165,2.4)(177,1.95)(190,1.55)(205,1.3)(220,1.15)(235,1.03)(250,0.95)}
\cv{(50,1.71)(55,2.15)(60,2.55)(65,2.86)(70,3.06)(76,3.15)(83,3.07)(90,2.75)(97,2.15)(104,1.4)(109,0.8)(113,0.47)(117,0.75)(123,1.8)(130,3.1)(138,4.4)(145,5.2)(150,5.45)(158,5.25)(167,4.6)(177,3.95)(188,3.4)(200,3.0)(215,2.65)(232,2.35)(250,2.1)}
\cv{(50,1.71)(55,2.15)(60,2.57)(65,2.93)(70,3.2)(78,3.45)(86,3.33)(94,2.95)(101,2.35)(107,1.6)(112,1.0)(115,0.72)(120,0.9)(127,1.35)(133,1.65)(139,1.75)(147,1.68)(157,1.45)(168,1.15)(180,0.88)(192,0.72)(205,0.65)(220,0.57)(235,0.45)(250,0.32)}
\cv{(50,1.71)(55,2.15)(60,2.54)(65,2.82)(70,3.0)(75,3.06)(80,3.02)(86,2.86)(92,2.54)(98,2.05)(104,1.45)(110,0.75)(115,0.22)(119,0.55)(126,1.55)(134,2.45)(142,2.9)(150,3.02)(160,2.85)(170,2.45)(182,2.0)(196,1.62)(212,1.38)(230,1.22)(250,1.08)}
\cv{(50,1.71)(55,2.15)(60,2.56)(65,2.88)(70,3.1)(76,3.2)(83,3.1)(89,2.8)(95,2.3)(101,1.6)(106,0.85)(109,0.32)(113,0.6)(119,1.65)(126,2.9)(134,3.95)(141,4.45)(148,4.6)(156,4.45)(166,3.95)(176,3.4)(188,2.9)(202,2.45)(218,2.15)(234,1.95)(250,1.75)}
\cv{(50,1.71)(55,2.15)(60,2.57)(65,2.93)(70,3.2)(78,3.45)(86,3.35)(94,3.0)(102,2.4)(109,1.6)(115,0.7)(119,0.12)(123,0.5)(130,1.55)(138,2.65)(145,3.25)(150,3.4)(159,3.25)(169,2.85)(180,2.4)(193,2.0)(208,1.7)(225,1.45)(250,1.2)}
\cv{(50,1.71)(55,2.15)(60,2.53)(65,2.8)(70,2.98)(75,3.03)(80,2.98)(85,2.82)(90,2.55)(95,2.15)(100,1.66)(105,1.05)(109,0.45)(112,0.06)(116,0.35)(122,1.0)(130,1.65)(138,2.05)(146,2.2)(155,2.1)(165,1.8)(176,1.45)(188,1.15)(200,0.95)(215,0.82)(232,0.7)(250,0.6)}
\cv{(50,1.71)(55,2.15)(60,2.58)(65,2.95)(70,3.25)(75,3.47)(80,3.58)(87,3.5)(94,3.1)(101,2.35)(108,1.4)(112,0.8)(115,0.37)(119,0.8)(125,2.0)(132,3.5)(140,4.85)(146,5.55)(150,5.8)(158,5.6)(167,4.95)(177,4.25)(188,3.65)(200,3.2)(215,2.85)(232,2.55)(250,2.3)}
\cv{(50,1.71)(55,2.15)(60,2.57)(65,2.9)(70,3.14)(77,3.3)(84,3.22)(91,2.9)(98,2.3)(104,1.6)(109,1.0)(113,0.62)(117,0.85)(124,1.65)(132,2.35)(142,2.7)(151,2.6)(162,2.2)(174,1.7)(186,1.3)(198,1.0)(212,0.8)(230,0.62)(250,0.5)}
\cv{(50,1.71)(55,2.15)(60,2.55)(65,2.86)(70,3.07)(76,3.15)(82,3.08)(88,2.82)(94,2.35)(100,1.65)(105,0.95)(108,0.52)(112,0.8)(118,1.75)(126,2.9)(135,3.6)(145,3.9)(155,3.72)(166,3.25)(178,2.75)(191,2.3)(206,1.95)(224,1.7)(250,1.5)}
\cv{(50,1.71)(55,2.15)(60,2.6)(65,2.99)(70,3.33)(76,3.6)(83,3.75)(90,3.68)(98,3.25)(106,2.45)(113,1.5)(118,0.75)(122,0.27)(126,0.65)(132,1.85)(140,3.3)(147,4.2)(152,4.5)(160,4.35)(170,3.85)(181,3.3)(193,2.8)(207,2.4)(225,2.08)(250,1.8)}
\cv{(50,1.71)(55,2.15)(60,2.55)(65,2.85)(70,3.04)(76,3.12)(82,3.06)(88,2.85)(95,2.4)(102,1.7)(108,1.0)(113,0.45)(117,0.14)(121,0.6)(127,1.85)(134,3.4)(141,4.8)(147,5.65)(152,6.0)(160,5.8)(170,5.15)(180,4.5)(190,3.95)(200,3.65)(212,3.4)(226,3.1)(240,2.8)(250,2.6)}
\cv{(50,1.71)(55,2.15)(60,2.57)(65,2.91)(70,3.16)(78,3.35)(86,3.25)(94,2.88)(101,2.3)(107,1.62)(112,1.05)(116,0.82)(121,1.05)(128,1.55)(134,1.88)(140,2.0)(149,1.9)(160,1.6)(172,1.25)(185,0.95)(198,0.75)(214,0.6)(232,0.45)(250,0.3)}
\cv{(50,1.71)(55,2.15)(60,2.58)(65,2.94)(70,3.22)(79,3.5)(88,3.4)(96,2.98)(104,2.3)(111,1.55)(117,0.85)(121,0.47)(125,0.8)(132,1.9)(140,2.95)(146,3.45)(150,3.6)(159,3.45)(169,3.0)(180,2.55)(193,2.15)(208,1.82)(226,1.55)(250,1.32)}
\cv{(50,1.71)(55,2.15)(60,2.56)(65,2.89)(70,3.12)(77,3.25)(84,3.15)(90,2.85)(96,2.35)(102,1.6)(107,0.8)(110,0.22)(114,0.7)(120,2.0)(127,3.4)(134,4.4)(140,4.95)(146,5.2)(154,5.05)(163,4.5)(173,3.9)(184,3.35)(196,2.95)(210,2.6)(228,2.3)(250,2.0)}
\end{axis}
\end{tikzpicture}
\end{document}
